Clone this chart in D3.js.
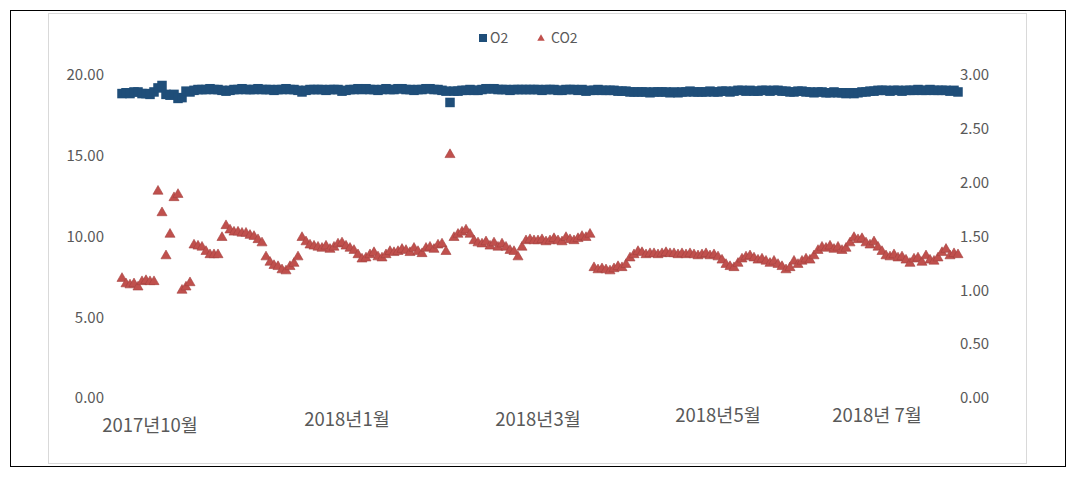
<!DOCTYPE html>
<html><head><meta charset="utf-8">
<script src="https://cdn.jsdelivr.net/npm/d3@7"></script>
<style>
html,body{margin:0;padding:0;background:#fff;}
svg{display:block;}
text{font-family:"Noto Sans CJK KR","Noto Sans",sans-serif;fill:#595959;}
</style></head>
<body><svg id="c" width="1075" height="478"></svg>
<script>
// ---- data ----
const seriesNames = ["O2", "CO2"];
const o2Values = [
18.85,18.9,18.85,18.95,18.95,18.85,18.85,18.8,18.95,19.2,
19.35,18.8,18.75,18.8,18.55,18.6,19.0,18.95,19.05,19.1,
19.1,19.1,19.15,19.1,19.1,19.05,19.0,19.05,19.1,19.1,
19.15,19.1,19.1,19.1,19.15,19.1,19.1,19.1,19.05,19.1,
19.1,19.15,19.1,19.1,19.05,18.95,19.05,19.1,19.1,19.1,
19.1,19.05,19.1,19.1,19.1,19.0,19.05,19.1,19.1,19.15,
19.1,19.15,19.1,19.1,19.05,19.1,19.15,19.1,19.1,19.15,
19.15,19.1,19.1,19.05,19.1,19.1,19.15,19.15,19.1,19.1,
19.05,19.0,18.3,19.0,19.0,19.05,19.05,19.1,19.05,19.05,
19.1,19.15,19.15,19.15,19.1,19.1,19.1,19.05,19.1,19.1,
19.1,19.1,19.1,19.1,19.1,19.05,19.1,19.1,19.1,19.05,
19.05,19.1,19.1,19.1,19.05,19.1,19.0,19.05,19.05,19.1,
19.05,19.05,19.05,19.05,19.0,19.0,19.0,18.95,18.95,18.95,
18.95,18.95,18.9,18.95,18.95,18.95,18.95,18.9,18.95,18.9,
18.95,18.95,19.0,18.95,18.95,18.95,18.95,19.0,18.95,18.95,
19.0,19.0,18.95,19.0,19.05,19.05,19.0,19.05,19.0,19.0,
19.05,19.05,19.0,19.05,19.05,19.0,19.0,18.95,18.95,19.0,
19.0,18.95,18.95,18.9,18.95,18.95,18.9,18.9,18.95,18.9,
18.9,18.85,18.9,18.85,18.9,18.95,18.95,19.0,19.0,19.05,
19.05,19.05,19.0,19.05,19.05,19.0,19.05,19.05,19.05,19.1,
19.05,19.05,19.1,19.05,19.05,19.05,19.05,19.0,19.05,18.95
];
const co2Values = [
1.11,1.06,1.05,1.06,1.03,1.08,1.09,1.08,1.08,1.92,
1.72,1.32,1.52,1.86,1.89,1.00,1.03,1.07,1.42,1.41,
1.40,1.36,1.33,1.33,1.33,1.49,1.60,1.56,1.54,1.54,
1.53,1.53,1.51,1.50,1.47,1.44,1.31,1.26,1.23,1.22,
1.19,1.18,1.22,1.25,1.31,1.49,1.45,1.42,1.41,1.40,
1.39,1.41,1.38,1.40,1.43,1.44,1.41,1.39,1.37,1.33,
1.29,1.30,1.33,1.35,1.31,1.30,1.33,1.36,1.35,1.36,
1.38,1.37,1.35,1.39,1.36,1.34,1.39,1.40,1.38,1.42,
1.43,1.36,2.26,1.49,1.52,1.54,1.56,1.52,1.46,1.44,
1.43,1.45,1.41,1.44,1.40,1.43,1.40,1.37,1.36,1.31,
1.40,1.46,1.47,1.46,1.46,1.47,1.45,1.46,1.48,1.46,
1.45,1.49,1.47,1.46,1.48,1.50,1.49,1.52,1.21,1.19,
1.20,1.19,1.18,1.20,1.22,1.21,1.24,1.30,1.33,1.36,
1.35,1.33,1.34,1.34,1.33,1.34,1.35,1.34,1.34,1.33,
1.34,1.33,1.34,1.33,1.32,1.33,1.34,1.32,1.33,1.31,
1.28,1.24,1.22,1.21,1.25,1.29,1.31,1.32,1.30,1.28,
1.29,1.27,1.25,1.27,1.24,1.22,1.19,1.21,1.27,1.24,
1.27,1.29,1.28,1.32,1.37,1.40,1.39,1.41,1.38,1.40,
1.37,1.39,1.44,1.49,1.47,1.48,1.44,1.42,1.45,1.40,
1.36,1.32,1.31,1.33,1.30,1.31,1.28,1.25,1.29,1.30,
1.26,1.32,1.28,1.27,1.30,1.35,1.38,1.32,1.34,1.33
];
const leftTicks = [0, 5, 10, 15, 20];
const rightTicks = [0, 0.5, 1, 1.5, 2, 2.5, 3];
const xLabels = ["2017년10월", "2018년1월", "2018년3월", "2018년5월", "2018년 7월"];
const xLabelAt = [7, 56.25, 104, 149, 188.75]; // sample index under each label

// ---- drawing ----
const svg = d3.select("#c");
const N = co2Values.length;
const x = d3.scaleLinear().domain([0, N - 1]).range([122, 958]);
const yL = d3.scaleLinear().domain([0, 20]).range([398, 75]);
const yR = d3.scaleLinear().domain([0, 3]).range([398, 75]);

svg.append("rect").attr("x", 10.5).attr("y", 10.5).attr("width", 1055).attr("height", 456)
  .attr("fill", "#fff").attr("stroke", "#000").attr("stroke-width", 1);
svg.append("rect").attr("x", 48.5).attr("y", 13.5).attr("width", 978).attr("height", 450)
  .attr("fill", "#fff").attr("stroke", "#d9d9d9").attr("stroke-width", 1);

const fmt = d3.format(".2f");
const gL = svg.append("g").attr("transform", "translate(104,0)")
  .call(d3.axisLeft(yL).tickValues(leftTicks).tickFormat(fmt).tickSize(0).tickPadding(0));
const gR = svg.append("g").attr("transform", "translate(960,0)")
  .call(d3.axisRight(yR).tickValues(rightTicks).tickFormat(fmt).tickSize(0).tickPadding(0));
[gL, gR].forEach(g => {
  g.select(".domain").remove();
  g.selectAll("text").attr("font-size", 15).attr("fill", "#595959")
    .attr("font-family", "'Noto Sans','Noto Sans CJK KR',sans-serif");
});

// x labels
const labelDy = [432, 426, 426, 422, 422];
svg.append("g").selectAll("text").data(xLabels).join("text")
  .attr("x", (d, i) => x(xLabelAt[i]))
  .attr("y", (d, i) => labelDy[i])
  .attr("text-anchor", "middle").attr("font-size", 18.5)
  .text(d => d);

// O2 squares
const sq = 9.5;
svg.append("g").selectAll("rect").data(o2Values).join("rect")
  .attr("x", (d, i) => x(i) - sq / 2).attr("y", d => yL(d) - sq / 2)
  .attr("width", sq).attr("height", sq).attr("fill", "#1f4e79");

// CO2 triangles
const tri = d3.symbol().type(d3.symbolTriangle).size(44);
svg.append("g").selectAll("path").data(co2Values).join("path")
  .attr("transform", (d, i) => `translate(${x(i)},${yR(d)})`)
  .attr("d", tri).attr("fill", "#c0504d").attr("stroke", "#a5423f").attr("stroke-width", 0.6);

// legend
const lg = svg.append("g");
lg.append("rect").attr("x", 479).attr("y", 34).attr("width", 8).attr("height", 8).attr("fill", "#1f4e79");
lg.append("text").attr("x", 490).attr("y", 43).attr("font-size", 14).text(seriesNames[0]);
lg.append("path").attr("transform", "translate(541,38.5)").attr("d", d3.symbol().type(d3.symbolTriangle).size(24))
  .attr("fill", "#c0504d");
lg.append("text").attr("x", 551).attr("y", 43).attr("font-size", 14).text(seriesNames[1]);
</script></body></html>
